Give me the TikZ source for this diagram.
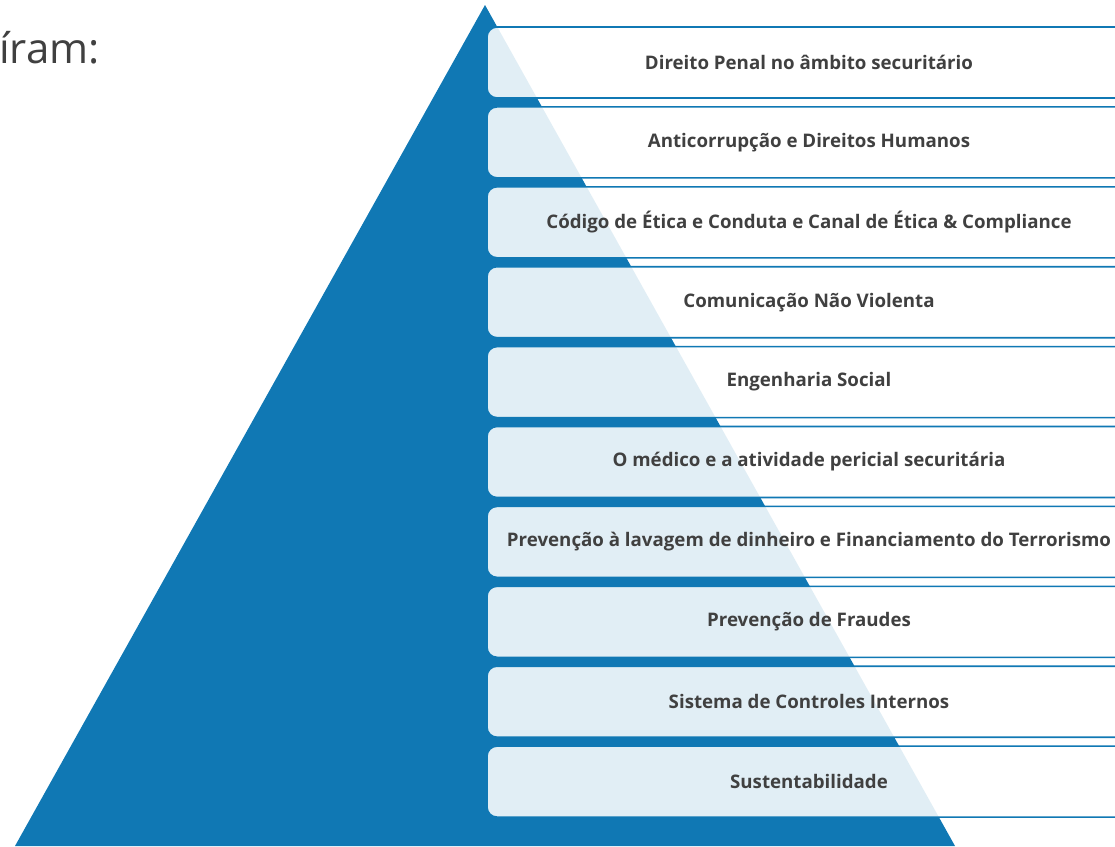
\documentclass[tikz,border=0pt]{standalone}
\usepackage{fontspec}
\setmainfont{Open Sans}
\usepackage{tikz}
\definecolor{pyrblue}{RGB}{16,120,180}
\definecolor{labelgray}{RGB}{64,64,64}

\begin{document}
\begin{tikzpicture}[x=1pt, y=-1pt,
		topic/.style={draw=pyrblue, line width=1.6pt, fill=white, fill opacity=0.88,
			text opacity=1, text=labelgray, rounded corners=10pt,
			minimum width=644pt, minimum height=71pt, inner sep=0pt,
			font=\bfseries\fontsize{18.7}{22}\selectfont}]
			\useasboundingbox (0,0) rectangle (1115,846);
			\clip (0,0) rectangle (1115,846);
			% heading, cut off at the left
			\node[anchor=base west, inner sep=0pt, text=labelgray,
				font=\fontsize{42}{48}\selectfont] (title) at (-1,63) {íram:};
			% pyramid
			\fill[pyrblue] (485,5) -- (15,846) -- (955,846) -- cycle;
			% topics
			\node[topic] (penal) at (809,62.5) {Direito Penal no âmbito securitário};
			\node[topic] (anticorr) at (809,142.4) {Anticorrupção e Direitos Humanos};
			\node[topic] (etica) at (809,222.3) {Código de Ética e Conduta e Canal de Ética \& Compliance};
			\node[topic] (cnv) at (809,302.2) {Comunicação Não Violenta};
			\node[topic] (engsocial) at (809,382.1) {Engenharia Social};
			\node[topic] (medico) at (809,462) {O médico e a atividade pericial securitária};
			\node[topic] (pld) at (809,541.9) {Prevenção à lavagem de dinheiro e Financiamento do Terrorismo};
			\node[topic] (fraudes) at (809,621.8) {Prevenção de Fraudes};
			\node[topic] (controles) at (809,701.7) {Sistema de Controles Internos};
			\node[topic] (sustent) at (809,781.6) {Sustentabilidade};
		\end{tikzpicture}
\end{document}
